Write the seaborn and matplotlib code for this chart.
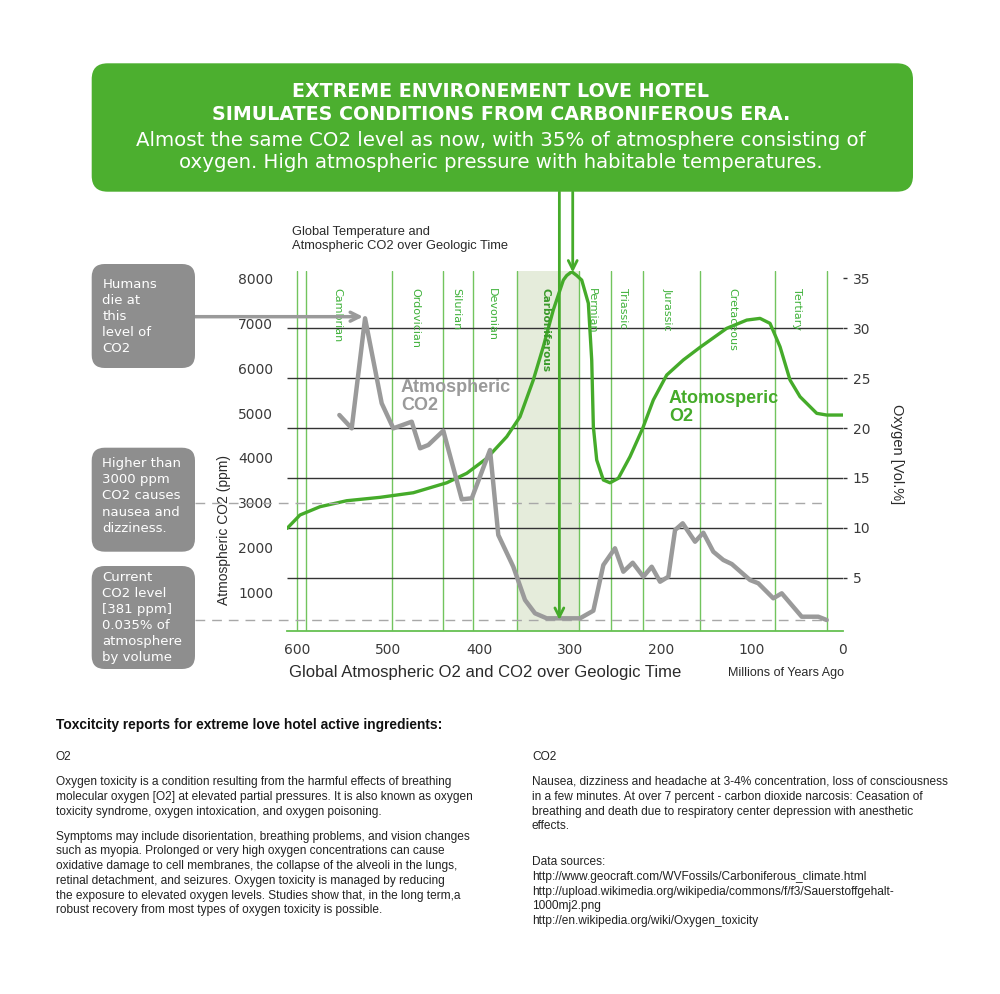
import matplotlib
matplotlib.use("Agg")
import matplotlib.pyplot as plt
import seaborn as sns
import pandas as pd
from matplotlib.patches import FancyBboxPatch

# ---------------- data ----------------
co2_myr = [554.0, 540.4, 525.7, 507.4, 494.6, 474.4, 465.2, 456.1, 439.6, 419.3,
           408.3, 388.2, 379.1, 362.6, 349.7, 338.7, 325.8, 289.2, 274.5, 263.5,
           250.7, 241.5, 231.2, 219.5, 210.3, 201.1, 192.0, 184.6, 176.2, 162.6,
           153.5, 142.5, 131.5, 122.2, 102.1, 93.0, 76.5, 67.2, 45.2, 27.0, 17.7]
co2_ppm = [4955, 4658, 7114, 5217, 4658, 4806, 4212, 4286, 4605, 3074,
           3096, 4174, 2277, 1569, 826, 529, 417, 417, 587, 1607,
           1980, 1458, 1658, 1346, 1569, 1234, 1346, 2388, 2538, 2127,
           2328, 1904, 1719, 1629, 1272, 1199, 864, 975, 453, 453, 379]

o2_myr = [611.5, 597.3, 575.3, 545.9, 509.2, 472.6, 435.8, 413.8, 391.8, 369.8,
          355.2, 340.6, 329.6, 318.6, 307.5, 303.8, 298.3, 292.8, 287.3, 280.0,
          276.3, 274.5, 270.8, 263.5, 256.2, 247.0, 234.2, 220.2, 208.5, 193.8,
          175.5, 157.1, 127.8, 105.7, 91.1, 80.1, 69.1, 58.1, 47.1, 28.7, 17.7, 0.0]
o2_pct = [9.95, 11.29, 12.12, 12.72, 13.06, 13.52, 14.52, 15.47, 16.97, 19.14,
          21.14, 24.82, 28.16, 31.84, 34.84, 35.3, 35.68, 35.3, 34.84, 32.51,
          26.82, 20.14, 16.80, 14.80, 14.52, 14.97, 17.13, 19.98, 22.82, 25.32,
          26.83, 28.10, 30.00, 30.83, 31.00, 30.50, 28.16, 24.82, 23.15, 21.48, 21.31, 21.31]

period_names = ["Cambrian", "Ordovician", "Silurian", "Devonian", "Carboniferous",
                "Permian", "Triassic", "Jurassic", "Cretaceous", "Tertiary"]
period_label_myr = [556.2, 470.7, 424.9, 385.7, 326.9, 276.3, 241.5, 192.7, 121.1, 50.1]
boundaries_myr = [600.9, 590.3, 495.7, 439.6, 407.2, 358.8, 290.3, 255.5, 220.2, 157.2, 74.6, 17.7]
carb_span = (358.8, 290.3)

x_ticks = [600, 500, 400, 300, 200, 100, 0]
co2_ticks = [1000, 2000, 3000, 4000, 5000, 6000, 7000, 8000]
o2_ticks = [5, 10, 15, 20, 25, 30, 35]
o2_grid = [5, 10, 15, 20, 25, 30]
co2_nausea = 3000
co2_current = 381

# ---------------- style ----------------
sns.set_theme(style="white")
plt.rcParams['font.family'] = ['DejaVu Sans']

GREEN = "#4caf2f"
LINEGREEN = "#45ab2a"
VGREEN = "#72c45e"
LABELGREEN = "#3fb13a"
GRAY = "#9a9a9a"
BOXGRAY = "#8e8e8e"
DARK = "#2a2a2a"

W, H = 1000, 994
fig = plt.figure(figsize=(W / 100, H / 100), dpi=100)


def ftext(x, y, s, **kw):
    kw.setdefault("va", "center")
    fig.text(x / W, 1 - y / H, s, **kw)


def fbox(x0, y0, x1, y1, color, r):
    p = FancyBboxPatch((x0 / W, 1 - y1 / H), (x1 - x0) / W, (y1 - y0) / H,
                       boxstyle=f"round,pad=0,rounding_size={r / W}",
                       transform=fig.transFigure, facecolor=color, edgecolor="none",
                       zorder=0)
    fig.patches.append(p)


# axes frame in pixels: left 287, right 843, top 270.5, bottom 631
ax = fig.add_axes([287 / W, 1 - 631 / H, (843 - 287) / W, (631 - 270.5) / H])
ax2 = ax.twinx()
ax.set_xlim(611.6, -0.2)
ax.set_ylim(-0.34, 35.8)
ax2.set_ylim(134, 8181)

# shading and period boundaries
ax.axvspan(carb_span[0], carb_span[1], color="#e5ecdb", lw=0, zorder=0)
for b in boundaries_myr:
    ax.axvline(b, color=VGREEN, lw=1.0, zorder=1)
ax.hlines(o2_grid, 611.6, -0.2, color="#333333", lw=1.0, zorder=2)

# O2 line
sns.lineplot(x=o2_myr, y=o2_pct, ax=ax, color=LINEGREEN, lw=2.4,
             estimator=None, sort=False, zorder=4)
# CO2 line
sns.lineplot(x=co2_myr, y=co2_ppm, ax=ax2, color=GRAY, lw=3.2,
             estimator=None, sort=False, zorder=5)

# dashed reference lines (extend to the gray boxes)
for v in (co2_nausea, co2_current):
    ax2.plot([712.8, 17.7], [v, v], color="#a8a8a8", lw=1.0, ls=(0, (7, 5)),
             clip_on=False, zorder=3)

# axis formatting
for a in (ax, ax2):
    for s in ("top", "left", "right"):
        a.spines[s].set_visible(False)
ax.spines["bottom"].set_visible(True)
ax.spines["bottom"].set_color("#66c052")
ax.spines["bottom"].set_linewidth(1.3)
ax2.spines["bottom"].set_visible(False)

ax.set_xticks(x_ticks)
ax.set_xticklabels([str(t) for t in x_ticks])
ax.tick_params(axis="x", length=0, pad=9, labelsize=10, labelcolor="#3a3a3a")

ax.yaxis.tick_right()
ax.set_yticks(o2_ticks)
ax.set_yticklabels([str(t) for t in o2_ticks])
ax.tick_params(axis="y", right=True, left=False, length=3, width=1, color="#333333",
               pad=4, labelsize=10, labelcolor="#3a3a3a")

ax2.yaxis.tick_left()
ax2.set_yticks(co2_ticks)
ax2.set_yticklabels([str(t) for t in co2_ticks])
ax2.tick_params(axis="y", left=True, right=False, length=0, pad=10, labelsize=10,
                labelcolor="#3a3a3a")
ax.set_xlabel("")
ax.set_ylabel("")
ax2.set_ylabel("")

# period labels
for name, xm in zip(period_names, period_label_myr):
    bold = name == "Carboniferous"
    ax.text(xm, 34.0, name, rotation=270, ha="center", va="top",
            color="#3a9a2a" if bold else LABELGREEN,
            fontsize=7.6 if bold else 8, fontweight="bold" if bold else "normal",
            zorder=6)

# arrows
ax2.annotate("", xy=(528, 7150), xytext=(712.8, 7150),
             arrowprops=dict(arrowstyle="->", color=GRAY, lw=2.5, mutation_scale=16,
                             shrinkA=0, shrinkB=0),
             annotation_clip=False, zorder=7)
ax2.annotate("", xy=(311.9, co2_current), xytext=(311.9, 9940),
             arrowprops=dict(arrowstyle="->", color=LINEGREEN, lw=2.0, mutation_scale=16,
                             shrinkA=0, shrinkB=0),
             annotation_clip=False, zorder=7)
ax.annotate("", xy=(297.2, 35.6), xytext=(297.2, 43.7),
            arrowprops=dict(arrowstyle="->", color=LINEGREEN, lw=2.0, mutation_scale=16,
                            shrinkA=0, shrinkB=0),
            annotation_clip=False, zorder=7)

# series labels
ftext(401, 388, "Atmospheric", color=GRAY, fontsize=13, fontweight="bold",
      family=["Liberation Sans"])
ftext(401, 405, "CO2", color=GRAY, fontsize=13, fontweight="bold",
      family=["Liberation Sans"])
ftext(669, 398, "Atomosperic", color=LINEGREEN, fontsize=13, fontweight="bold",
      family=["Liberation Sans"])
ftext(669, 416, "O2", color=LINEGREEN, fontsize=13, fontweight="bold",
      family=["Liberation Sans"])

# axis titles
ftext(224, 530, "Atmospheric CO2 (ppm)", rotation=90, ha="center", color=DARK,
      fontsize=10, family=["Liberation Sans"])
ftext(897, 454, "Oxygen [Vol.%]", rotation=270, ha="center", color=DARK,
      fontsize=10.5, family=["Liberation Sans"])
ftext(289, 672, "Global Atmospheric O2 and CO2 over Geologic Time", color=DARK,
      fontsize=12, family=["Liberation Sans"])
ftext(728, 673, "Millions of Years Ago", color=DARK, fontsize=9,
      family=["Liberation Sans"])
ftext(292, 232, "Global Temperature and", color=DARK, fontsize=9.3,
      family=["Liberation Sans"])
ftext(292, 246, "Atmospheric CO2 over Geologic Time", color=DARK, fontsize=9.3,
      family=["Liberation Sans"])

# top green box
fbox(91.7, 63.3, 913, 191.7, GREEN, 16)
ftext(501, 91.5, "EXTREME ENVIRONEMENT LOVE HOTEL", ha="center", color="white",
      fontsize=13.65, fontweight="bold")
ftext(501, 114, "SIMULATES CONDITIONS FROM CARBONIFEROUS ERA.", ha="center",
      color="white", fontsize=13.65, fontweight="bold")
ftext(501, 140, "Almost the same CO2 level as now, with 35% of atmosphere consisting of",
      ha="center", color="white", fontsize=14.2)
ftext(501, 162, "oxygen. High atmospheric pressure with habitable temperatures.",
      ha="center", color="white", fontsize=14.2)

# left gray boxes
fbox(91.7, 264, 195, 368, BOXGRAY, 13)
fbox(91.7, 447.7, 195, 551.7, BOXGRAY, 13)
fbox(91.7, 566, 195, 669, BOXGRAY, 13)
box1 = ["Humans", "die at", "this", "level of", "CO2"]
box2 = ["Higher than", "3000 ppm", "CO2 causes", "nausea and", "dizziness."]
box3 = ["Current", "CO2 level", "[381 ppm]", "0.035% of", "atmosphere", "by volume"]
for lines, y0 in ((box1, 284), (box2, 464), (box3, 577.3)):
    for i, s in enumerate(lines):
        ftext(102.5, y0 + 16 * i, s, color="white", fontsize=9.5)

# bottom text
BODY = dict(color="#222222", fontsize=8.6, family=["Liberation Sans Narrow", "Liberation Sans"])
ftext(56, 725, "Toxcitcity reports for extreme love hotel active ingredients:",
      color="#111111", fontsize=9.9, fontweight="bold", family=["Liberation Sans"])
ftext(56, 757, "O2", **BODY)
left_p1 = ["Oxygen toxicity is a condition resulting from the harmful effects of breathing",
           "molecular oxygen [O2] at elevated partial pressures. It is also known as oxygen",
           "toxicity syndrome, oxygen intoxication, and oxygen poisoning."]
left_p2 = ["Symptoms may include disorientation, breathing problems, and vision changes",
           "such as myopia. Prolonged or very high oxygen concentrations can cause",
           "oxidative damage to cell membranes, the collapse of the alveoli in the lungs,",
           "retinal detachment, and seizures. Oxygen toxicity is managed by reducing",
           "the exposure to elevated oxygen levels. Studies show that, in the long term,a",
           "robust recovery from most types of oxygen toxicity is possible."]
for i, s in enumerate(left_p1):
    ftext(56, 782 + 15 * i, s, **BODY)
for i, s in enumerate(left_p2):
    ftext(56, 836.7 + 14.7 * i, s, **BODY)

ftext(532, 757, "CO2", **BODY)
right_p1 = ["Nausea, dizziness and headache at 3-4% concentration, loss of consciousness",
            "in a few minutes. At over 7 percent - carbon dioxide narcosis: Ceasation of",
            "breathing and death due to respiratory center depression with anesthetic",
            "effects."]
right_p2 = ["Data sources:",
            "http://www.geocraft.com/WVFossils/Carboniferous_climate.html",
            "http://upload.wikimedia.org/wikipedia/commons/f/f3/Sauerstoffgehalt-",
            "1000mj2.png",
            "http://en.wikipedia.org/wiki/Oxygen_toxicity"]
for i, s in enumerate(right_p1):
    ftext(532, 782 + 14.8 * i, s, **BODY)
for i, s in enumerate(right_p2):
    ftext(532, 861.7 + 14.9 * i, s, **BODY)

fig.savefig("out.png", dpi=100, facecolor="white")
